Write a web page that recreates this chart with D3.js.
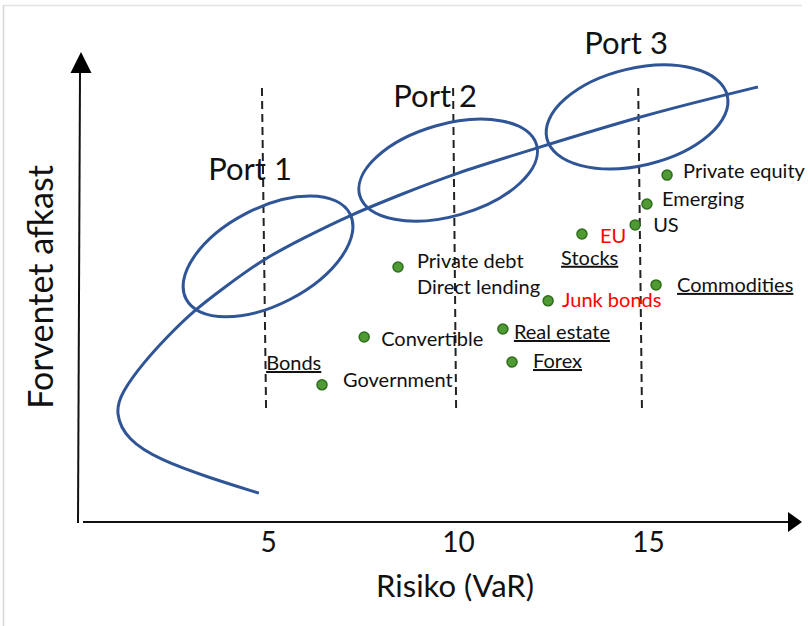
<!DOCTYPE html>
<html>
<head>
<meta charset="utf-8">
<script src="https://cdn.jsdelivr.net/npm/d3@7"></script>
<style>
  html, body { margin: 0; padding: 0; background: #fff; }
  svg { display: block; }
  text { font-family: Lato, "Liberation Sans", sans-serif; fill: #111; }
</style>
</head>
<body>
<svg id="chart" width="810" height="626"></svg>
<script>
// ---------------- DATA ----------------
const xTicks = [5, 10, 15];
const xTitle = "Risiko (VaR)";
const yTitle = "Forventet afkast";

// efficient frontier (risk, return)
const frontierRisk   = [4.76, 3.47, 2.16, 1.29, 0.97, 1.15, 1.71, 2.34, 3.03, 3.82, 4.87, 5.92, 7.16, 8.47, 9.87, 11.97, 14.79, 17.11, 17.89];
const frontierReturn = [0.76, 1.16, 1.63, 2.16, 2.87, 3.42, 4.18, 4.87, 5.55, 6.15, 6.92, 7.47, 8.08, 8.61, 9.16, 9.81, 10.68, 11.26, 11.45];

// portfolios
const portNames  = ["Port 1", "Port 2", "Port 3"];
const portRisk   = [5.00, 9.74, 14.71];
const portReturn = [6.99, 9.26, 10.66];
const portSpreadMajor = [2.43, 2.42, 2.44];
const portSpreadMinor = [1.27, 1.21, 1.28];
const portTilt = [27.5, 16, 13.4];
const portLineRiskTop    = [4.84, 9.87, 14.74];
const portLineRiskBottom = [4.95, 9.95, 14.84];
const portLineReturnTop    = 11.42;
const portLineReturnBottom = 2.87;

// asset classes
const assetNames  = ["Government", "Convertible", "Private debt\nDirect lending", "Real estate", "Forex", "Junk bonds", "EU", "US", "Emerging", "Private equity", "Commodities"];
const assetRisk   = [6.42, 7.53, 8.42, 11.18, 11.42, 12.37, 13.26, 14.66, 14.97, 15.50, 15.21];
const assetReturn = [3.61, 4.87, 6.71, 5.08, 4.21, 5.82, 7.58, 7.82, 8.37, 9.13, 6.24];
const assetUnderlined = [false, false, false, true, true, false, false, false, false, false, true];
const assetRed        = [false, false, false, false, false, true, true, false, false, false, false];

// group headers
const groupNames  = ["Bonds", "Stocks"];
const groupRisk   = [4.95, 12.71];
const groupReturn = [4.0, 6.77];

// ---------------- LAYOUT ----------------
const labelDx = [21, 17, 19, 11, 21, 14, 18, 18, 15, 16, 21];
const labelDy = [2, 9, 1, 10, 6, 6, 9, 7, 2, 3, 7];
const portLabelDx = [-18, -13, -11];
const portLabelDy = [-76, -63, -63];

const blue = "#2F5597";
const svg = d3.select("#chart");

const x = d3.scaleLinear().domain([0, 19.05]).range([78, 802]);
const y = d3.scaleLinear().domain([0, 12.37]).range([522, 52]);

// frame
svg.append("line").attr("x1", 3).attr("x2", 802).attr("y1", 5.5).attr("y2", 5.5)
  .attr("stroke", "#e4e4e4").attr("stroke-width", 1.5);
svg.append("line").attr("x1", 3.5).attr("x2", 3.5).attr("y1", 5).attr("y2", 626)
  .attr("stroke", "#d8d8d8").attr("stroke-width", 1.5);

// axes lines + arrows
const ax = svg.append("g");
ax.append("line").attr("x1", x(0)).attr("x2", x(0) + 2).attr("y1", y(0) + 1).attr("y2", y(12.37) + 21)
  .attr("stroke", "#111").attr("stroke-width", 2);
ax.append("path")
  .attr("d", `M${x(0) + 3},${y(12.37)} L${x(0) - 7.5},${y(12.37) + 21} L${x(0) + 13.5},${y(12.37) + 21} Z`)
  .attr("fill", "#000");
ax.append("line").attr("x1", x(0) + 5).attr("x2", x(19.05) - 14).attr("y1", y(0)).attr("y2", y(0))
  .attr("stroke", "#111").attr("stroke-width", 2);
ax.append("path")
  .attr("d", `M${x(19.05)},${y(0)} L${x(19.05) - 14},${y(0) - 10} L${x(19.05) - 14},${y(0) + 10} Z`)
  .attr("fill", "#000");

// tick labels via axis
const xAxis = d3.axisBottom(x).tickValues(xTicks).tickSize(0).tickPadding(10).tickFormat(d3.format("d"));
const gx = svg.append("g").attr("transform", `translate(0,${y(0)})`).call(xAxis);
gx.select(".domain").remove();
gx.selectAll("text").style("font-family", "Lato, 'Liberation Sans', sans-serif").style("font-size", "28px").attr("fill", "#111");

// axis titles
svg.append("text").attr("x", 455).attr("y", 597).attr("text-anchor", "middle")
  .style("font-size", "31px").text(xTitle);
svg.append("text").attr("transform", "translate(53,287) rotate(-90)").attr("text-anchor", "middle")
  .style("font-size", "34px").text(yTitle);

// dashed port lines
portNames.forEach((p, i) => {
  svg.append("line")
    .attr("x1", x(portLineRiskTop[i])).attr("y1", y(portLineReturnTop))
    .attr("x2", x(portLineRiskBottom[i])).attr("y2", y(portLineReturnBottom))
    .attr("stroke", "#222").attr("stroke-width", 2).attr("stroke-dasharray", "8,5");
});

// frontier
const line = d3.line().x(d => x(d[0])).y(d => y(d[1])).curve(d3.curveBasis);
svg.append("path")
  .datum(frontierRisk.map((r, i) => [r, frontierReturn[i]]))
  .attr("d", line).attr("fill", "none").attr("stroke", blue).attr("stroke-width", 3);

// ellipses
portNames.forEach((p, i) => {
  const cx = x(portRisk[i]), cy = y(portReturn[i]);
  svg.append("ellipse")
    .attr("cx", cx).attr("cy", cy)
    .attr("rx", x(portSpreadMajor[i]) - x(0))
    .attr("ry", y(0) - y(portSpreadMinor[i]))
    .attr("transform", `rotate(${-portTilt[i]},${cx},${cy})`)
    .attr("fill", "none").attr("stroke", blue).attr("stroke-width", 3);
  svg.append("text")
    .attr("x", cx + portLabelDx[i]).attr("y", cy + portLabelDy[i])
    .attr("text-anchor", "middle").style("font-size", "31px").text(p);
});

// asset points
assetNames.forEach((n, i) => {
  const px = x(assetRisk[i]), py = y(assetReturn[i]);
  svg.append("circle").attr("cx", px).attr("cy", py).attr("r", 5)
    .attr("fill", "#4F9A33").attr("stroke", "#2F6E1C").attr("stroke-width", 1.5);
  const t = svg.append("text")
    .attr("x", px + labelDx[i]).attr("y", py + labelDy[i])
    .style("font-size", "20px")
    .style("fill", assetRed[i] ? "#FF0000" : "#111")
    .style("text-decoration", assetUnderlined[i] ? "underline" : "none");
  n.split("\n").forEach((s, k) => {
    t.append("tspan").attr("x", px + labelDx[i]).attr("dy", k === 0 ? 0 : 26).text(s);
  });
});

// group headers
groupNames.forEach((g, i) => {
  svg.append("text").attr("x", x(groupRisk[i])).attr("y", y(groupReturn[i]))
    .style("font-size", "20px").style("text-decoration", "underline").text(g);
});
</script>
</body>
</html>
